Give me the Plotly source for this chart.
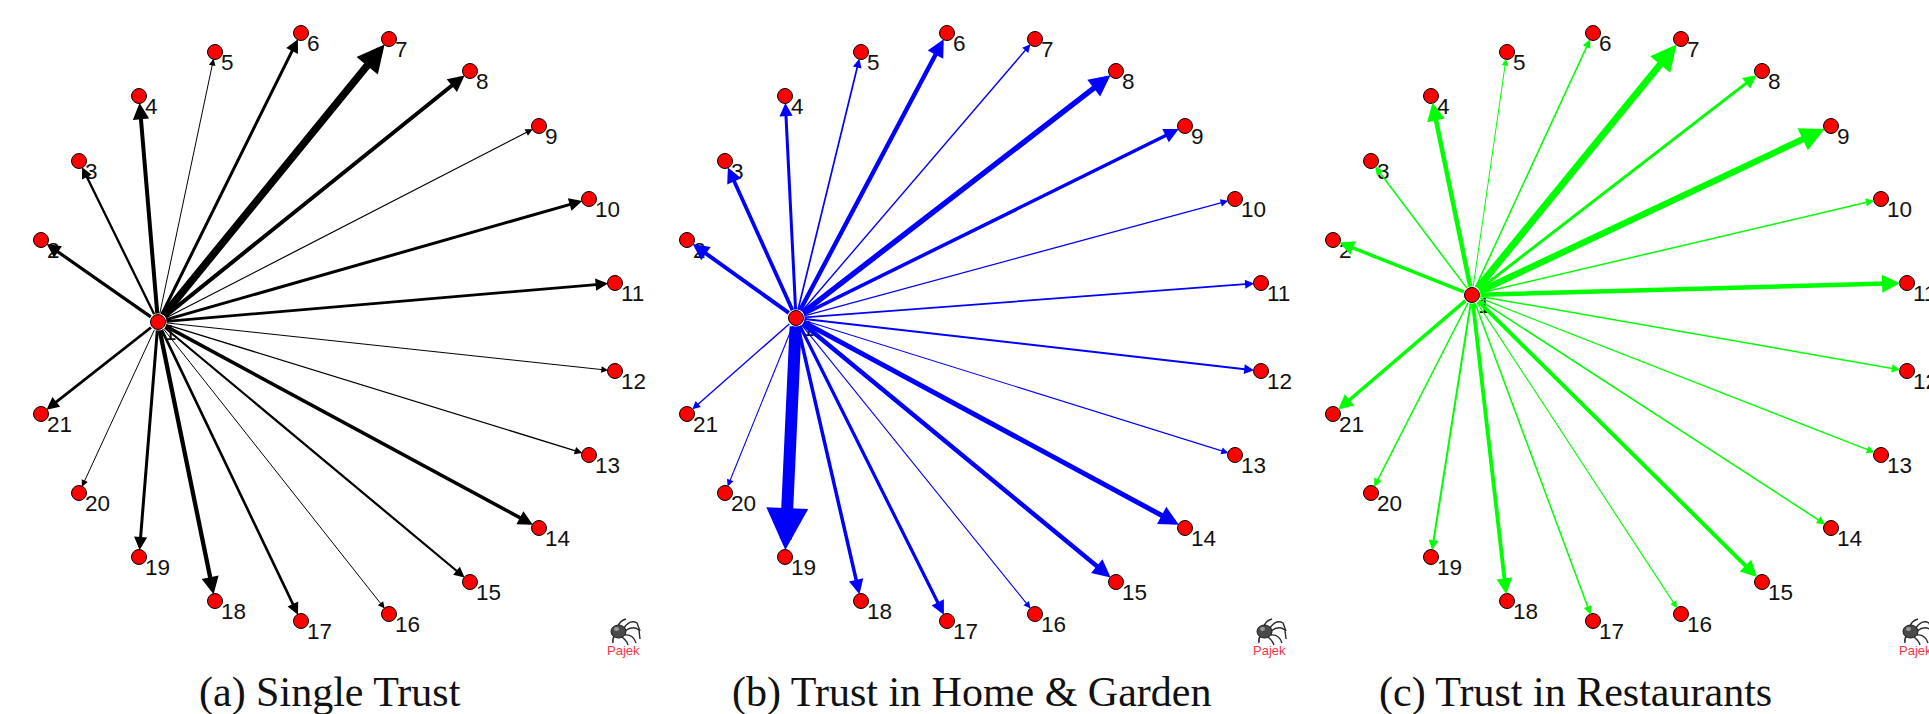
import plotly.graph_objects as go

# ---------------- data ----------------
node_ids = list(range(1, 22))
# layout coordinates (panel pixel units, y downward) of the outer nodes 2..21
outer_x = [41, 79, 139, 215, 301, 389, 470, 539, 589, 615,
           615, 589, 539, 470, 389, 301, 215, 139, 79, 41]
outer_y = [240, 161, 96, 52, 33, 39, 71, 126, 199, 283,
           371, 455, 528, 582, 614, 621, 601, 557, 493, 414]
# position of the central node 1 in each panel
center_x = [158, 150, 180]
center_y = [322, 318, 295]

weights_a = [3.2, 2.3, 4.0, 1.0, 3.0, 7.5, 4.0, 1.2, 3.0, 2.8,
             1.0, 1.3, 3.5, 2.2, 1.0, 2.6, 4.3, 3.0, 1.0, 2.8]
weights_b = [4.0, 3.7, 3.0, 1.7, 4.4, 1.4, 5.5, 3.5, 1.3, 1.7,
             2.0, 1.1, 5.0, 4.5, 1.1, 3.2, 3.5, 12.0, 1.1, 1.4]
weights_c = [3.5, 1.5, 4.5, 1.0, 1.5, 7.0, 3.0, 6.5, 1.5, 4.5,
             1.5, 1.3, 1.5, 4.0, 1.1, 1.5, 3.8, 2.0, 1.5, 3.5]

captions = ["(a) Single Trust", "(b) Trust in Home & Garden", "(c) Trust in Restaurants"]
edge_colors = ["#000000", "#0000ff", "#00ff00"]

# ---------------- layout helpers ----------------
W, H = 1929, 714
PANEL = 646
caption_x = [330, 325, 283]
caption_y = 692
logo_x, logo_y = 620, 632

fig = go.Figure()
annotations = []
shapes = []
weights_all = [weights_a, weights_b, weights_c]

for p in range(3):
    sfx = "" if p == 0 else str(p + 1)
    xr, yr = "x" + sfx, "y" + sfx
    left = p * PANEL
    right = min(W, left + PANEL)
    fig.layout["xaxis" + sfx] = dict(domain=[left / W, right / W], range=[0, right - left],
                                    visible=False, fixedrange=True, anchor=yr)
    fig.layout["yaxis" + sfx] = dict(domain=[0, 1], range=[H, 0], visible=False,
                                    fixedrange=True, anchor=xr)
    cx, cy = center_x[p], center_y[p]
    xs = [cx] + outer_x
    ys = [cy] + outer_y

    # node labels (drawn first so that edges pass over them)
    for nid, nx, ny in zip(node_ids, xs, ys):
        annotations.append(dict(x=nx, y=ny, xref=xr, yref=yr, text=str(nid), showarrow=False,
                                xanchor="left", yanchor="middle", xshift=4, yshift=-10,
                                font=dict(family="Liberation Sans, Arial", size=22.5, color="#111111")))
    # edges
    for tx, ty, w in zip(outer_x, outer_y, weights_all[p]):
        annotations.append(dict(x=tx, y=ty, ax=cx, ay=cy, xref=xr, yref=yr, axref=xr, ayref=yr,
                                text="", showarrow=True, arrowhead=2, arrowwidth=w,
                                arrowsize=(3.5 + 3.2 * w) / (5 * w), arrowcolor=edge_colors[p],
                                standoff=7, startstandoff=7))
    # nodes
    fig.add_trace(go.Scatter(x=xs, y=ys, mode="markers", xaxis=xr, yaxis=yr, hoverinfo="skip",
                             marker=dict(size=15, color="#ff0000", line=dict(color="#000000", width=1)),
                             showlegend=False))
    # caption
    annotations.append(dict(x=caption_x[p], y=caption_y, xref=xr, yref=yr, text=captions[p],
                            showarrow=False, xanchor="center", yanchor="middle",
                            font=dict(family="Liberation Serif, Times New Roman, serif", size=42,
                                      color="#111111")))
    # Pajek logo: spider + text
    bx, by = logo_x, logo_y
    legs = [
        f"M {bx+4},{by-4} Q {bx+10},{by-13} {bx+17},{by-9} L {bx+20},{by-1}",
        f"M {bx+5},{by-1} Q {bx+13},{by-7} {bx+19},{by-2} L {bx+20},{by+7}",
        f"M {bx+5},{by+3} Q {bx+13},{by+2} {bx+16},{by+11}",
        f"M {bx+2},{by+5} Q {bx+7},{by+9} {bx+8},{by+13}",
        f"M {bx-5},{by+3} Q {bx-8},{by+7} {bx-7},{by+11}",
        f"M {bx-2},{by-5} Q {bx-1},{by-11} {bx+6},{by-13}",
    ]
    for d in legs:
        shapes.append(dict(type="path", path=d, xref=xr, yref=yr,
                           line=dict(color="#2a2a2a", width=1.4)))
    shapes.append(dict(type="circle", xref=xr, yref=yr, x0=bx - 9, x1=bx + 6, y0=by - 7, y1=by + 6,
                       fillcolor="#4a4a4a", line=dict(color="#1a1a1a", width=1)))
    shapes.append(dict(type="circle", xref=xr, yref=yr, x0=bx - 6, x1=bx - 1, y0=by - 5, y1=by - 1,
                       fillcolor="#9a9a9a", line=dict(width=0)))
    annotations.append(dict(x=bx + 3, y=by + 18, xref=xr, yref=yr, text="Pajek", showarrow=False,
                            xanchor="center", yanchor="middle",
                            font=dict(family="Liberation Sans, Arial", size=13, color="#ff3344")))

fig.update_layout(width=W, height=H, margin=dict(l=0, r=0, t=0, b=0),
                  paper_bgcolor="white", plot_bgcolor="white",
                  annotations=annotations, shapes=shapes, showlegend=False)

fig.write_html("out.html", config={"displayModeBar": False},
               post_script="document.body.style.margin='0';document.body.style.overflow='hidden';")
